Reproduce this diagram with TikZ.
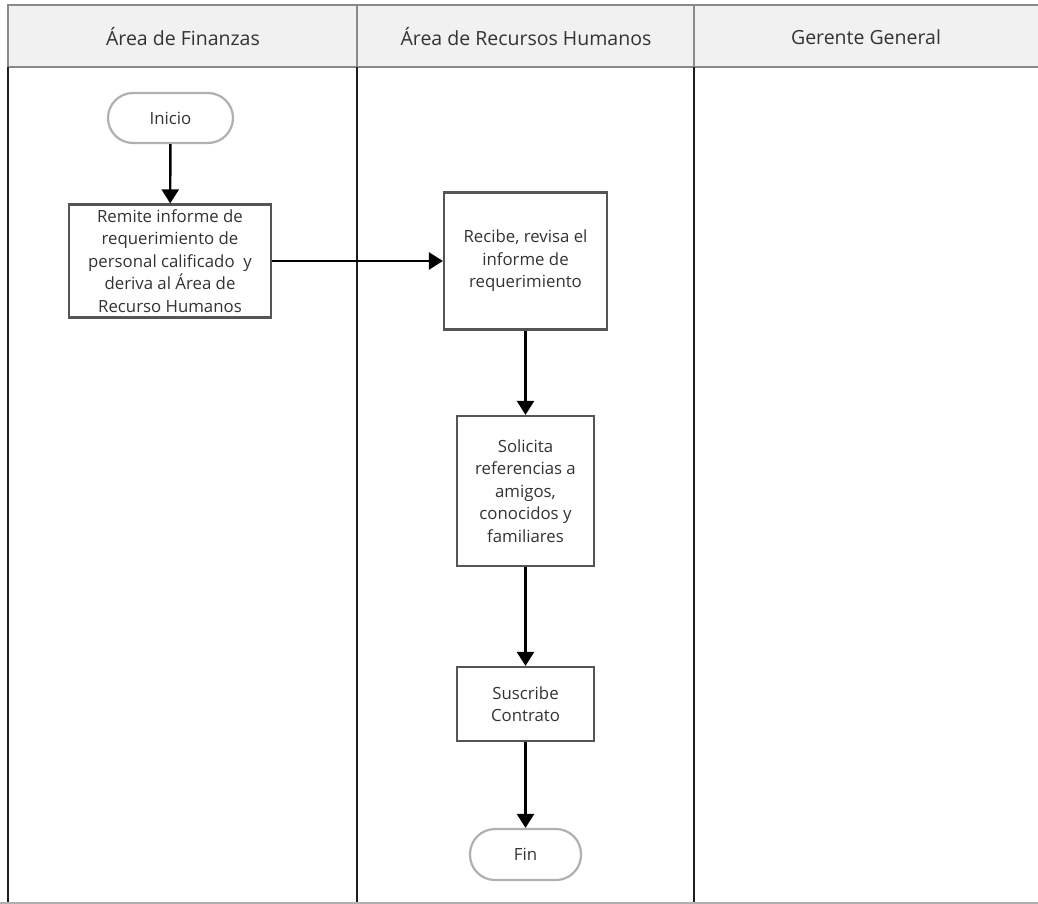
\documentclass[tikz,border=0pt]{standalone}
\usepackage{fontspec}
\setmainfont{Open Sans}
\usetikzlibrary{arrows.meta}
\definecolor{hdrfill}{HTML}{F1F1F1}
\definecolor{hdrline}{HTML}{8A8A8A}
\definecolor{laneline}{HTML}{1E1E1E}
\definecolor{boxline}{HTML}{555555}
\definecolor{termline}{HTML}{B0B0B0}
\definecolor{txt}{HTML}{333333}
\tikzset{
  lanehead/.style={font=\fontsize{19.5}{24}\selectfont, text=txt},
  procbox/.style={draw=boxline, line width=2.2pt, fill=white, align=center,
    inner sep=0pt, text=txt, font=\fontsize{16.8}{22.5}\selectfont},
  terminal/.style={draw=termline, line width=2.2pt, fill=white, rounded corners=25pt,
    inner sep=0pt, text=txt, font=\fontsize{16.8}{22.5}\selectfont},
  flow/.style={draw=black, line width=2.4pt, -{Triangle[width=17pt,length=14pt]}},
}
\begin{document}
\begin{tikzpicture}[x=1pt,y=-1pt]
\useasboundingbox (0,0) rectangle (1038,904);
% header band
\fill[hdrfill] (8,5) rectangle (1038,67);
\draw[hdrline, line width=2.4pt] (1038,5) -- (8,5) -- (8,67) -- (1038,67);
\draw[hdrline, line width=2.4pt] (357,5) -- (357,67);
\draw[hdrline, line width=2.4pt] (694,5) -- (694,67);
% lane separators
\draw[laneline, line width=2.6pt] (8,67) -- (8,904);
\draw[laneline, line width=2.6pt] (357,67) -- (357,904);
\draw[laneline, line width=2.6pt] (694,67) -- (694,904);
\draw[termline, line width=1.2pt] (0,903) -- (1038,903);
% lane titles
\node[lanehead] (h1) at (183,37) {Área de Finanzas};
\node[lanehead] (h2) at (526,37) {Área de Recursos Humanos};
\node[lanehead] (h3) at (866,37) {Gerente General};
% steps
\node[terminal, minimum width=125pt, minimum height=50pt] (inicio) at (170.5,118) {Inicio};
\node[procbox, minimum width=202pt, minimum height=113pt] (remite) at (170,261)
  {Remite informe de\\requerimiento de\\personal calificado\ \ y\\deriva al Área de\\Recurso Humanos};
\node[procbox, minimum width=163pt, minimum height=137pt] (recibe) at (525.5,261)
  {Recibe, revisa el\\informe de\\requerimiento};
\node[procbox, minimum width=137pt, minimum height=150pt] (solicita) at (525.5,491)
  {Solicita\\referencias a\\amigos,\\conocidos y\\familiares};
\node[procbox, minimum width=137pt, minimum height=74pt] (suscribe) at (525.5,704)
  {Suscribe\\Contrato};
\node[terminal, minimum width=111pt, minimum height=51pt] (fin) at (525.5,854.5) {Fin};
% connectors
\draw[flow] (inicio) -- (remite);
\draw[flow] (remite) -- (recibe);
\draw[flow] (recibe) -- (solicita);
\draw[flow] (solicita) -- (suscribe);
\draw[flow] (suscribe) -- (fin);
\end{tikzpicture}
\end{document}
